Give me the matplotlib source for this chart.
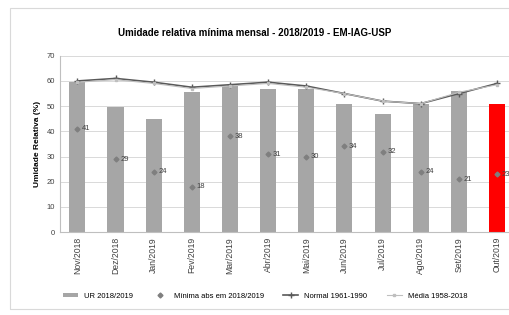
import numpy as np
import matplotlib
matplotlib.use("Agg")
import matplotlib.pyplot as plt
from matplotlib.patches import Rectangle

plt.rcParams['font.family'] = ['Liberation Sans', 'DejaVu Sans']

# data
meses = ['Nov/2018', 'Dez/2018', 'Jan/2019', 'Fev/2019', 'Mar/2019', 'Abr/2019',
         'Mai/2019', 'Jun/2019', 'Jul/2019', 'Ago/2019', 'Set/2019', 'Out/2019']
ur = [59.5, 49.5, 45, 55.8, 58.5, 57, 57, 51, 47, 51, 56, 50.8]
minima_abs = [41, 29, 24, 18, 38, 31, 30, 34, 32, 24, 21, 23]
normal = [60, 61, 59.5, 57.5, 58.5, 59.5, 58, 55, 52, 51, 55, 59]
media = [59.5, 60.5, 59, 57, 58, 59, 57.5, 55, 52, 51, 55.5, 58.5]

fig = plt.figure(figsize=(5.10, 3.15), dpi=100)
# outer chart border
fig.patches.append(Rectangle((0.02, 0.02), 0.99, 0.955, transform=fig.transFigure,
                             fill=False, edgecolor='#d9d9d9', linewidth=0.8))

ax = fig.add_axes([0.118, 0.263, 0.894, 0.56])
x = np.arange(len(meses))
cores = ['#a6a6a6'] * (len(meses) - 1) + ['#ff0000']
b = ax.bar(x, ur, width=0.42, color=cores, label='UR 2018/2019', zorder=2)
m, = ax.plot(x, minima_abs, linestyle='none', marker='D', markersize=2.5, color='#7f7f7f',
             label='Mínima abs em 2018/2019', zorder=4)
for xi, v in zip(x, minima_abs):
    ax.text(xi + 0.12, v, str(v), fontsize=5.5, color='#404040', va='center', zorder=5)
n, = ax.plot(x, normal, color='#595959', linewidth=1.2, marker='+', markersize=4,
             label='Normal 1961-1990', zorder=3)
md, = ax.plot(x, media, color='#bfbfbf', linewidth=0.8, marker='s', markersize=2,
              label='Média 1958-2018', zorder=3)

ax.set_ylim(0, 70)
ax.set_xlim(-0.45, len(meses) - 0.5)
ax.set_yticks(range(0, 71, 10))
ax.yaxis.grid(True, color='#d9d9d9', linewidth=0.7, zorder=0)
ax.set_axisbelow(True)
ax.set_xticks(x)
ax.set_xticklabels(meses, rotation=90, fontsize=6.2)
ax.tick_params(axis='y', labelsize=5.5, length=0, colors='#404040')
ax.tick_params(axis='x', length=0, colors='#404040')
for s in ['top', 'right']:
    ax.spines[s].set_visible(False)
ax.spines['left'].set_color('#bfbfbf')
ax.spines['bottom'].set_color('#bfbfbf')
ax.set_ylabel('Umidade Relativa (%)', fontsize=6, fontweight='bold')

fig.text(0.5, 0.895, 'Umidade relativa mínima mensal - 2018/2019 - EM-IAG-USP',
         ha='center', va='center', fontsize=7, fontweight='bold')
fig.legend(handles=[b, m, n, md], loc='center', bbox_to_anchor=(0.52, 0.06), ncol=4,
           frameon=False, fontsize=5.5, handlelength=2, handleheight=0.4,
           columnspacing=2.5)

fig.savefig('out.png', dpi=100)
